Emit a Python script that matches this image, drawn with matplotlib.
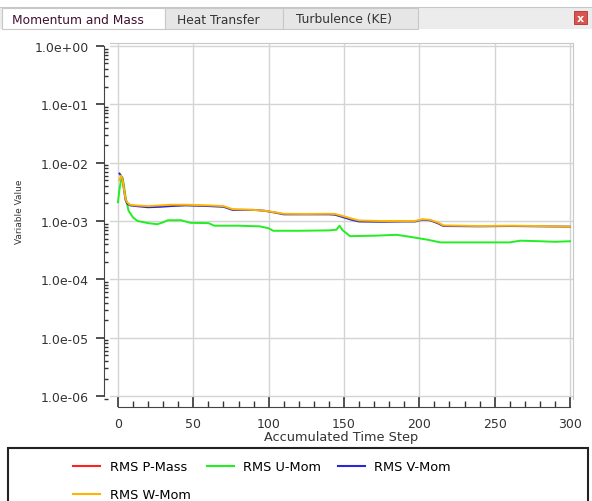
import matplotlib
matplotlib.use("Agg")
import matplotlib.pyplot as plt
from matplotlib.patches import Rectangle
from matplotlib.lines import Line2D
from matplotlib.ticker import LogLocator, NullFormatter

# residual history (log scale)
steps_uvw = [0, 1, 2, 3, 4, 5, 7, 10, 13, 20, 26, 30, 33, 42, 48, 60, 64, 80, 94, 100,
             103, 120, 140, 145, 147, 149, 154, 170, 185, 195, 205, 214, 240, 260, 267,
             280, 290, 300]
u_mom = [2.1e-3, 3.5e-3, 5.0e-3, 5.6e-3, 4.0e-3, 2.6e-3, 1.5e-3, 1.15e-3, 1.0e-3, 9.2e-4,
         8.8e-4, 9.5e-4, 1.03e-3, 1.03e-3, 9.3e-4, 9.2e-4, 8.3e-4, 8.3e-4, 8.1e-4, 7.5e-4,
         6.8e-4, 6.8e-4, 6.9e-4, 7.1e-4, 8.3e-4, 7.0e-4, 5.5e-4, 5.6e-4, 5.8e-4, 5.3e-4,
         4.8e-4, 4.3e-4, 4.3e-4, 4.3e-4, 4.6e-4, 4.5e-4, 4.4e-4, 4.5e-4]

steps_vw = [1, 2, 3, 4, 5, 6, 8, 12, 20, 28, 35, 45, 60, 70, 76, 90, 97, 105, 110, 125,
            140, 144, 150, 155, 160, 175, 190, 197, 202, 207, 212, 216, 240, 260, 280, 300]
v_mom = [6.5e-3, 6.0e-3, 5.2e-3, 3.4e-3, 2.3e-3, 2.0e-3, 1.85e-3, 1.8e-3, 1.72e-3, 1.75e-3,
         1.8e-3, 1.85e-3, 1.8e-3, 1.75e-3, 1.55e-3, 1.55e-3, 1.5e-3, 1.38e-3, 1.3e-3, 1.3e-3,
         1.3e-3, 1.28e-3, 1.15e-3, 1.05e-3, 0.98e-3, 0.97e-3, 0.98e-3, 0.98e-3, 1.05e-3,
         1.03e-3, 0.92e-3, 0.82e-3, 0.81e-3, 0.82e-3, 0.81e-3, 0.8e-3]
w_mom = [5.0e-3, 6.0e-3, 5.2e-3, 3.5e-3, 2.4e-3, 2.1e-3, 1.9e-3, 1.85e-3, 1.8e-3, 1.85e-3,
         1.9e-3, 1.9e-3, 1.85e-3, 1.8e-3, 1.6e-3, 1.55e-3, 1.5e-3, 1.4e-3, 1.33e-3, 1.32e-3,
         1.33e-3, 1.32e-3, 1.2e-3, 1.1e-3, 1.02e-3, 1.0e-3, 1.0e-3, 1.0e-3, 1.07e-3, 1.05e-3,
         0.95e-3, 0.84e-3, 0.82e-3, 0.83e-3, 0.82e-3, 0.8e-3]

tabs = ["Momentum and Mass", "Heat Transfer", "Turbulence (KE)"]
y_ticks = [1e0, 1e-1, 1e-2, 1e-3, 1e-4, 1e-5, 1e-6]
y_labels = ["1.0e+00", "1.0e-01", "1.0e-02", "1.0e-03", "1.0e-04", "1.0e-05", "1.0e-06"]
series_names = ["RMS P-Mass", "RMS U-Mom", "RMS V-Mom", "RMS W-Mom"]
series_colors = ["#ff2020", "#22ee22", "#2828d8", "#ffb400"]

W, H = 592, 502
fig = plt.figure(figsize=(W / 100, H / 100), dpi=100)
fig.patch.set_facecolor("white")

def fx(px):
    return px / W

def fy(py):
    return 1 - py / H

# tab strip
fig.add_artist(Rectangle((0, fy(30)), 1, fy(8) - fy(30), transform=fig.transFigure,
                         facecolor="#ececec", edgecolor="none"))
fig.add_artist(Line2D([0, 1], [fy(8), fy(8)], transform=fig.transFigure, color="#c8c8c8", lw=0.8))
tab_edges = [2, 165, 283, 418]
for i, name in enumerate(tabs):
    x0, x1 = tab_edges[i], tab_edges[i + 1]
    fc = "white" if i == 0 else "#e6e6e6"
    fig.add_artist(Rectangle((fx(x0), fy(30)), fx(x1 - x0), fy(9) - fy(30), transform=fig.transFigure,
                             facecolor=fc, edgecolor="#c8c8c8", lw=0.8))
    fig.text(fx((x0 + x1) / 2 - 6), fy(20), name, ha="center", va="center", fontsize=8.8,
             color="#401030" if i == 0 else "#333333")
fig.add_artist(Rectangle((fx(574), fy(25)), fx(13), fy(12) - fy(25), transform=fig.transFigure,
                         facecolor="#d9534f", edgecolor="#b03030", lw=0.6))
fig.text(fx(580.5), fy(18.5), "x", ha="center", va="center", fontsize=8, color="white",
         fontweight="bold")

# plot area
ax = fig.add_axes([fx(110), fy(400), fx(573 - 110), fy(44) - fy(400)])
ax.plot(steps_uvw, u_mom, color=series_colors[1], lw=1.4)
ax.plot(steps_vw, v_mom, color=series_colors[2], lw=1.4)
ax.plot(steps_vw, w_mom, color=series_colors[3], lw=1.4)

ax.set_yscale("log")
ax.set_xlim(-5.3, 302)
ax.set_ylim(10 ** -6.05, 10 ** 0.05)
ax.set_yticks(y_ticks)
ax.set_yticklabels(y_labels)
ax.yaxis.set_minor_locator(LogLocator(base=10, subs=(2, 3, 4, 5, 6, 7, 8, 9), numticks=50))
ax.yaxis.set_minor_formatter(NullFormatter())
ax.set_xticks(range(0, 301, 50))
ax.set_xticks(range(0, 301, 10), minor=True)
ax.grid(True, which="major", color="#d4d4d4", lw=1.0)

for s in ["top", "right"]:
    ax.spines[s].set_color("#c8c8c8")
ax.spines["left"].set_position(("outward", 4))
ax.spines["bottom"].set_position(("outward", 6))
ax.spines["left"].set_bounds(1e-6, 1e0)
ax.spines["bottom"].set_bounds(0, 300)
ax.spines["left"].set_color("#444444")
ax.spines["bottom"].set_color("#444444")

ax.tick_params(axis="y", which="major", direction="out", length=6, width=1.2, labelsize=9,
               color="#333333", labelcolor="#333333", pad=5)
ax.tick_params(axis="y", which="minor", direction="in", length=3, width=1.0, color="#333333")
ax.tick_params(axis="x", which="major", direction="in", length=7, width=1.2, labelsize=9,
               color="#333333", labelcolor="#333333", pad=7)
ax.tick_params(axis="x", which="minor", direction="in", length=4, width=1.0, color="#333333")
ax.set_xlabel("Accumulated Time Step", fontsize=9.3, color="#333333", labelpad=0)
ax.set_ylabel("Variable Value", fontsize=6.5, color="#333333")
ax.yaxis.set_label_coords(-0.185, 0.528)

# legend panel
fig.add_artist(Rectangle((fx(8), fy(505)), fx(580), fy(449) - fy(505), transform=fig.transFigure,
                         facecolor="white", edgecolor="#222222", lw=1.5))
handles = [Line2D([], [], color=c, lw=1.5) for c in series_colors]
order = [0, 3, 1, 2]
fig.legend([handles[i] for i in order], [series_names[i] for i in order], loc="upper left",
           bbox_to_anchor=(fx(67), fy(455)), ncol=3, frameon=False, fontsize=9.3, borderpad=0,
           handlelength=2.05, columnspacing=1.3, labelspacing=1.15, handletextpad=0.75)

fig.savefig("out.png", dpi=100, facecolor="white")
